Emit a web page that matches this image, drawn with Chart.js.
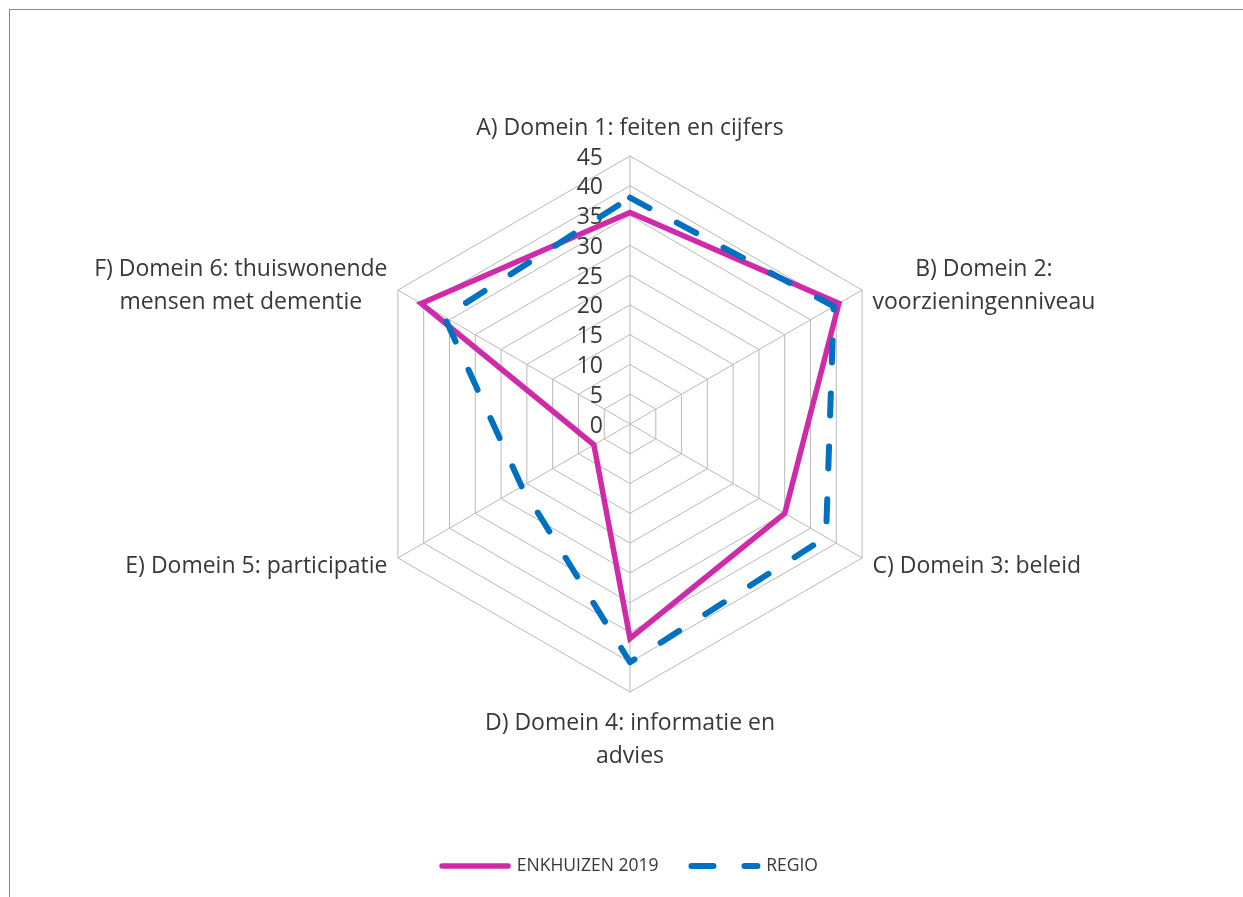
<!DOCTYPE html>
<html>
<head>
<meta charset="utf-8">
<script src="https://cdn.jsdelivr.net/npm/chart.js@4.4.1/dist/chart.umd.min.js"></script>
<style>
    html, body { margin: 0; padding: 0; background: #fff; overflow: hidden; }
    #frame {
        position: absolute; left: 9px; top: 9px;
        width: 1234px; height: 888px;
        border-top: 1px solid #8a8a8a; border-left: 1px solid #8a8a8a;
    }
    #chart-box { position: relative; width: 1233px; height: 887px; }
</style>
</head>
<body>
<div id="frame"><div id="chart-box"><canvas id="radarChart"></canvas></div></div>
<script>
/* ================= DATA ================= */
const categories = [
    'A) Domein 1: feiten en cijfers',
    ['B) Domein 2:', 'voorzieningenniveau'],
    'C) Domein 3: beleid',
    ['D) Domein 4: informatie en', 'advies'],
    'E) Domein 5: participatie',
    ['F) Domein 6: thuiswonende', 'mensen met dementie']
];
const enkhuizen = [35.5, 40.5, 30, 36, 7, 40.5];
const regio = [38, 39.5, 38, 40, 21, 36];
const tickValues = [0, 5, 10, 15, 20, 25, 30, 35, 40, 45];

const magenta = '#CF2AA8';
const blue = '#0070C0';
const textColor = '#383838';
const gridColor = '#b9b9b9';

/* ================= TEXT PLUGIN ================= */
// tick numbers sit left of the vertical axis, axis labels are centred blocks
const radarText = {
    id: 'radarText',
    beforeDatasetsDraw(chart) {
        const scale = chart.scales.r;
        const ctx = chart.ctx;
        ctx.save();
        ctx.fillStyle = textColor;
        ctx.font = '23px "Open Sans"';
        ctx.textBaseline = 'middle';

        ctx.textAlign = 'right';
        scale.ticks.forEach(t => {
            const r = scale.getDistanceFromCenterForValue(t.value);
            ctx.fillText(String(t.value), scale.xCenter - 27, scale.yCenter - r + 2);
        });

        const lh = 33;
        ctx.textAlign = 'center';
        chart.data.labels.forEach((label, i) => {
            const lines = Array.isArray(label) ? label : [label];
            const p = scale.getPointPosition(i, scale.drawingArea + 12);
            const blockW = Math.max(...lines.map(l => ctx.measureText(l).width));
            let cx, firstY;
            if (Math.abs(p.x - scale.xCenter) < 1) {
                cx = p.x;
                firstY = p.y < scale.yCenter ? p.y - 16 - (lines.length - 1) * lh : p.y + 19;
            } else {
                cx = p.x > scale.xCenter ? p.x + blockW / 2 : p.x - blockW / 2;
                firstY = p.y + 2 - (lines.length - 1) * lh / 2;
            }
            lines.forEach((l, k) => ctx.fillText(l, cx, firstY + k * lh));
        });
        ctx.restore();
    }
};

/* ================= CHART ================= */
new Chart(document.getElementById('radarChart'), {
    type: 'radar',
    data: {
        labels: categories,
        datasets: [{
            label: 'ENKHUIZEN 2019',
            data: enkhuizen,
            borderColor: magenta,
            backgroundColor: magenta,
            borderWidth: 5.5,
            borderCapStyle: 'round',
            borderJoinStyle: 'miter',
            fill: false,
            pointRadius: 0,
            pointHoverRadius: 0,
            order: 1
        }, {
            label: 'REGIO',
            data: regio,
            borderColor: blue,
            backgroundColor: blue,
            borderWidth: 6,
            borderDash: [22, 31],
            borderCapStyle: 'round',
            borderJoinStyle: 'round',
            fill: false,
            pointRadius: 0,
            pointHoverRadius: 0,
            order: 0
        }]
    },
    options: {
        responsive: true,
        maintainAspectRatio: false,
        animation: false,
        layout: {
            padding: { left: 352, right: 345, top: 146, bottom: 12.25 }
        },
        elements: { line: { tension: 0 } },
        scales: {
            r: {
                min: 0,
                max: 45,
                afterBuildTicks: scale => {
                    scale.ticks = tickValues.map(v => ({ value: v }));
                },
                ticks: { display: false, stepSize: 5 },
                pointLabels: { display: false },
                grid: { color: gridColor, lineWidth: 1 },
                angleLines: { color: gridColor, lineWidth: 1 }
            }
        },
        plugins: {
            tooltip: { enabled: false },
            legend: {
                position: 'bottom',
                title: {
                    display: true,
                    text: ' ',
                    font: { size: 10, lineHeight: 1 },
                    padding: { top: 122.25, bottom: 0 }
                },
                labels: {
                    usePointStyle: true,
                    pointStyleWidth: 66,
                    padding: 33,
                    color: textColor,
                    font: { family: '"Open Sans"', size: 17.5 },
                    generateLabels: chart => chart.data.datasets.map((ds, i) => ({
                        text: ds.label,
                        fillStyle: ds.borderColor,
                        strokeStyle: ds.borderColor,
                        lineWidth: ds.borderWidth,
                        lineDash: ds.borderDash || [],
                        lineCap: 'round',
                        pointStyle: 'line',
                        fontColor: textColor,
                        hidden: false,
                        datasetIndex: i
                    }))
                }
            }
        }
    },
    plugins: [radarText]
});
</script>
</body>
</html>
